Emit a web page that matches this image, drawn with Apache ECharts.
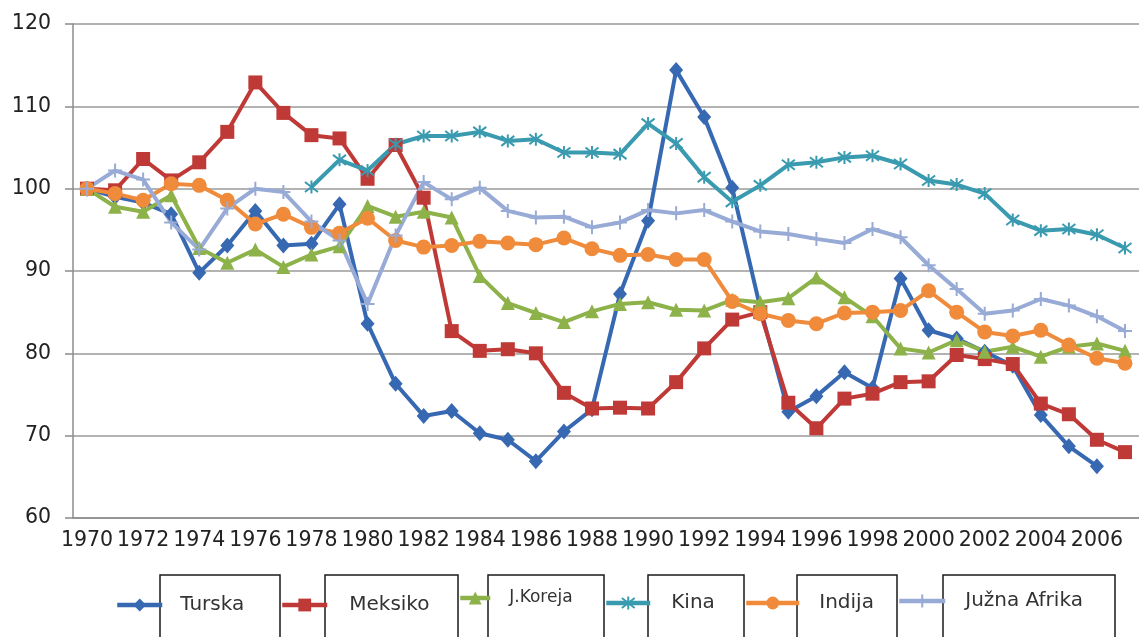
<!DOCTYPE html>
<html>
<head>
<meta charset="utf-8">
<script src="https://cdn.jsdelivr.net/npm/echarts/dist/echarts.min.js"></script>
<style>
  html, body { margin: 0; padding: 0; background: #fff; }
  #chart { width: 1139px; height: 637px; }
</style>
</head>
<body>
<div id="chart"></div>
<script>
// years on the category axis
const years = ['1970','1971','1972','1973','1974','1975','1976','1977','1978','1979',
  '1980','1981','1982','1983','1984','1985','1986','1987','1988','1989',
  '1990','1991','1992','1993','1994','1995','1996','1997','1998','1999',
  '2000','2001','2002','2003','2004','2005','2006','2007'];

const turska = [100, 99.0, 98.3, 96.9, 89.8, 93.1, 97.3, 93.1, 93.3, 98.1,
  83.6, 76.3, 72.4, 73.0, 70.3, 69.5, 66.9, 70.5, 73.2, 87.2,
  96.1, 114.4, 108.7, 100.1, 85.5, 72.9, 74.8, 77.7, 75.8, 89.1,
  82.8, 81.8, 80.2, 78.5, 72.5, 68.7, 66.3, null];

const meksiko = [100, 99.8, 103.6, 101.0, 103.2, 106.9, 112.9, 109.2, 106.5, 106.1,
  101.2, 105.3, 98.9, 82.7, 80.3, 80.5, 80.0, 75.2, 73.3, 73.4,
  73.3, 76.5, 80.6, 84.1, 85.0, 74.0, 70.9, 74.5, 75.1, 76.5,
  76.6, 79.8, 79.3, 78.7, 73.9, 72.6, 69.5, 68.0];

const koreja = [100, 97.8, 97.2, 99.2, 92.8, 91.0, 92.6, 90.5, 92.0, 93.0,
  97.9, 96.6, 97.2, 96.5, 89.4, 86.1, 84.9, 83.8, 85.1, 86.0,
  86.2, 85.3, 85.2, 86.5, 86.2, 86.7, 89.2, 86.8, 84.5, 80.6,
  80.1, 81.6, 80.2, 80.8, 79.6, 80.8, 81.2, 80.3];

const kina = [null, null, null, null, null, null, null, null, 100.2, 103.5,
  102.2, 105.4, 106.4, 106.4, 106.9, 105.8, 106.0, 104.4, 104.4, 104.2,
  107.9, 105.5, 101.4, 98.4, 100.4, 102.9, 103.2, 103.8, 104.0, 103.0,
  101.0, 100.5, 99.4, 96.2, 94.9, 95.1, 94.4, 92.8];

const indija = [100, 99.4, 98.6, 100.6, 100.4, 98.6, 95.7, 96.9, 95.3, 94.6,
  96.4, 93.7, 92.9, 93.1, 93.6, 93.4, 93.2, 94.0, 92.7, 91.9,
  92.0, 91.4, 91.4, 86.3, 84.8, 84.0, 83.6, 84.9, 85.0, 85.2,
  87.6, 85.0, 82.6, 82.1, 82.8, 81.0, 79.4, 78.8];

const afrika = [100, 102.2, 101.1, 95.9, 92.6, 97.6, 100.0, 99.6, 96.0, 93.7,
  86.0, 94.3, 100.8, 98.7, 100.1, 97.3, 96.5, 96.6, 95.3, 95.9,
  97.4, 97.0, 97.4, 96.0, 94.8, 94.5, 93.9, 93.4, 95.1, 94.1,
  90.7, 87.8, 84.8, 85.2, 86.6, 85.8, 84.5, 82.7];

const names = ['Turska', 'Meksiko', 'J.Koreja', 'Kina', 'Indija', 'Južna Afrika'];
const values = [turska, meksiko, koreja, kina, indija, afrika];
const colors = ['#3768b2', '#bf3a37', '#8db24a', '#3a9bb0', '#ef8b3b', '#98abd6'];

const starPath = 'path://M0,0L10,10M10,0L0,10M5,-1.5L5,11.5';
const plusPath = 'path://M5,0L5,10M0,5L10,5';
const symbols = ['diamond', 'rect', 'triangle', starPath, 'circle', plusPath];
const symbolSizes = [[14, 16], 14, 14, 13, 15, 14];

// legend placement: icon start, icon width, text offset, centre y, font size
const legendPos = [
  { left: 115, w: 45, pad: 13, cy: 605, fs: 20 },
  { left: 280, w: 45, pad: 17, cy: 605, fs: 20 },
  { left: 458, w: 30, pad: 14, cy: 598, fs: 17 },
  { left: 604, w: 44, pad: 16, cy: 603, fs: 20 },
  { left: 744, w: 53, pad: 15, cy: 603, fs: 20 },
  { left: 897, w: 46, pad: 15, cy: 601, fs: 20 }
];
const boxes = [[160, 280], [325, 458], [488, 604], [648, 744], [797, 897], [943, 1115]];

const chart = echarts.init(document.getElementById('chart'));

chart.setOption({
  animation: false,
  textStyle: { fontFamily: 'DejaVu Sans' },
  grid: { left: 73, top: 24, bottom: 119, right: -9 },
  xAxis: {
    type: 'category',
    data: years,
    boundaryGap: true,
    axisLine: { lineStyle: { color: '#8c8c8c', width: 1.5 } },
    axisTick: { interval: 0, length: 6, lineStyle: { color: '#8c8c8c', width: 1.5 } },
    axisLabel: { interval: 1, margin: 12, fontSize: 20.5, color: '#222', fontFamily: 'DejaVu Sans' },
    splitLine: { show: false }
  },
  yAxis: {
    type: 'value',
    min: 60,
    max: 120,
    interval: 10,
    axisLine: { show: true, lineStyle: { color: '#8c8c8c', width: 1.5 } },
    axisTick: { show: true, length: 8, lineStyle: { color: '#8c8c8c', width: 1.5 } },
    axisLabel: { margin: 22, fontSize: 20.5, color: '#222', fontFamily: 'DejaVu Sans' },
    splitLine: { lineStyle: { color: '#9a9a9a', width: 1.5 } }
  },
  legend: names.map((n, i) => ({
    data: [n],
    selectedMode: false,
    left: legendPos[i].left,
    top: legendPos[i].cy - 10,
    padding: 0,
    itemWidth: legendPos[i].w,
    itemHeight: 16,
    lineStyle: { width: 4.5 },
    textStyle: {
      fontSize: legendPos[i].fs,
      lineHeight: 20,
      color: '#333',
      fontFamily: 'DejaVu Sans',
      padding: [0, 0, 0, legendPos[i].pad]
    }
  })),
  graphic: boxes.map(b => ({
    type: 'rect',
    shape: { x: b[0], y: 575, width: b[1] - b[0], height: 80 },
    style: { fill: 'none', stroke: '#1a1a1a', lineWidth: 1.5 },
    silent: true
  })),
  series: names.map((n, i) => ({
    name: n,
    type: 'line',
    data: values[i],
    color: colors[i],
    symbol: symbols[i],
    symbolSize: symbolSizes[i],
    showAllSymbol: true,
    connectNulls: false,
    lineStyle: { width: 4, color: colors[i] },
    itemStyle: {
      color: colors[i],
      borderColor: colors[i],
      borderWidth: (i === 3 || i === 5) ? 2 : 0
    }
  }))
});
</script>
</body>
</html>
